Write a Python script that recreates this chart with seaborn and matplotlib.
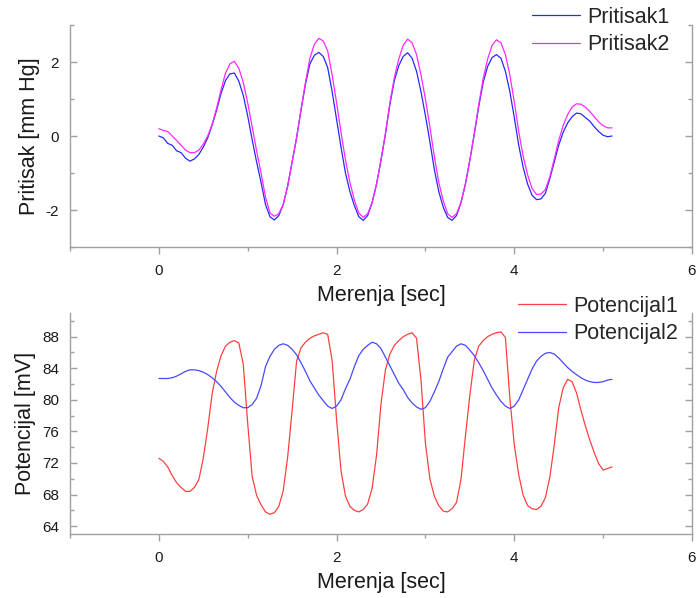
import numpy as np
import pandas as pd
import matplotlib
matplotlib.use("Agg")
import matplotlib.pyplot as plt
from matplotlib.ticker import MultipleLocator
import seaborn as sns

# ---------------- data ----------------
t_sec = np.linspace(0.0, 5.1, 103)

pritisak1 = [
    0.00, -0.05, -0.20, -0.25, -0.40, -0.45, -0.60, -0.68, -0.62, -0.50,
    -0.30, -0.05, 0.30, 0.70, 1.15, 1.50, 1.68, 1.70, 1.48, 1.10,
    0.54, -0.10, -0.70, -1.25, -1.85, -2.18, -2.27, -2.15, -1.85, -1.35,
    -0.70, -0.05, 0.70, 1.40, 1.95, 2.18, 2.26, 2.15, 1.85, 1.20,
    0.45, -0.30, -1.00, -1.50, -1.88, -2.18, -2.28, -2.15, -1.80, -1.30,
    -0.65, 0.05, 0.85, 1.50, 1.90, 2.15, 2.25, 2.10, 1.75, 1.20,
    0.55, -0.15, -0.90, -1.50, -1.92, -2.20, -2.28, -2.15, -1.80, -1.30,
    -0.65, 0.05, 0.80, 1.45, 1.88, 2.12, 2.20, 2.10, 1.75, 1.20,
    0.50, -0.25, -0.85, -1.30, -1.60, -1.72, -1.70, -1.55, -1.15, -0.70,
    -0.25, 0.10, 0.35, 0.52, 0.62, 0.60, 0.50, 0.40, 0.25, 0.12,
    0.02, -0.02, 0.00]

pritisak2 = [
    0.20, 0.15, 0.12, 0.00, -0.12, -0.25, -0.38, -0.45, -0.45, -0.38,
    -0.22, 0.00, 0.32, 0.75, 1.25, 1.70, 1.95, 2.02, 1.83, 1.45,
    0.89, 0.25, -0.40, -1.00, -1.65, -2.08, -2.17, -2.10, -1.85, -1.35,
    -0.70, -0.05, 0.72, 1.45, 2.10, 2.48, 2.64, 2.57, 2.30, 1.65,
    0.90, 0.10, -0.65, -1.25, -1.73, -2.08, -2.20, -2.10, -1.80, -1.30,
    -0.65, 0.07, 0.90, 1.58, 2.08, 2.45, 2.62, 2.52, 2.20, 1.65,
    1.00, 0.25, -0.55, -1.25, -1.75, -2.10, -2.20, -2.10, -1.80, -1.30,
    -0.65, 0.07, 0.85, 1.55, 2.08, 2.45, 2.60, 2.52, 2.20, 1.65,
    0.92, 0.12, -0.55, -1.05, -1.42, -1.58, -1.57, -1.45, -1.10, -0.62,
    -0.12, 0.28, 0.58, 0.78, 0.87, 0.86, 0.78, 0.66, 0.52, 0.38,
    0.28, 0.22, 0.22]

potencijal1 = [
    72.6, 72.2, 71.5, 70.4, 69.5, 68.9, 68.4, 68.4, 68.9, 69.9,
    72.6, 76.4, 80.8, 83.6, 85.6, 86.8, 87.3, 87.5, 87.2, 84.5,
    77.0, 70.3, 67.9, 66.7, 65.8, 65.5, 65.7, 66.5, 68.5, 72.8,
    78.7, 84.9, 86.6, 87.3, 87.8, 88.1, 88.3, 88.5, 88.3, 85.0,
    77.5, 71.0, 67.8, 66.5, 66.0, 65.8, 66.1, 66.8, 68.8, 73.0,
    79.5, 83.8, 85.8, 86.9, 87.5, 88.0, 88.3, 88.5, 87.8, 82.5,
    74.5, 70.0, 67.8, 66.6, 65.9, 65.8, 66.2, 67.0, 69.9, 75.4,
    80.6, 85.0, 86.8, 87.5, 88.0, 88.3, 88.5, 88.6, 87.9, 80.2,
    74.3, 70.5, 67.9, 66.6, 66.2, 66.1, 66.5, 67.6, 70.2, 74.3,
    79.0, 81.5, 82.6, 82.3, 80.9, 78.7, 76.7, 74.9, 73.3, 71.9,
    71.1, 71.3, 71.5]

potencijal2 = [
    82.7, 82.7, 82.7, 82.8, 83.0, 83.3, 83.6, 83.8, 83.8, 83.7,
    83.5, 83.2, 82.8, 82.3, 81.7, 81.0, 80.3, 79.7, 79.3, 79.0,
    79.0, 79.4, 80.2, 81.8, 84.2, 85.5, 86.4, 86.9, 87.1, 86.9,
    86.4, 85.7, 84.7, 83.6, 82.4, 81.5, 80.6, 79.9, 79.2, 78.9,
    79.2, 80.0, 81.4, 82.6, 84.2, 85.6, 86.4, 86.9, 87.3, 87.1,
    86.5, 85.4, 84.3, 83.2, 82.1, 81.3, 80.3, 79.6, 79.1, 78.8,
    79.0, 79.8, 81.0, 82.3, 83.9, 85.4, 86.1, 86.8, 87.1, 86.9,
    86.3, 85.6, 84.7, 83.7, 82.6, 81.5, 80.6, 79.8, 79.2, 78.9,
    79.2, 80.0, 81.3, 82.6, 83.9, 84.9, 85.5, 85.9, 86.0, 85.8,
    85.3, 84.7, 84.1, 83.6, 83.2, 82.8, 82.5, 82.3, 82.2, 82.2,
    82.3, 82.5, 82.6]

top_names = ["Pritisak1", "Pritisak2"]
bot_names = ["Potencijal1", "Potencijal2"]
x_label = "Merenja [sec]"
top_ylabel = "Pritisak [mm Hg]"
bot_ylabel = "Potencijal [mV]"

df_top = pd.DataFrame({
    "t": np.concatenate([t_sec, t_sec]),
    "v": np.concatenate([pritisak1, pritisak2]),
    "s": [top_names[0]] * len(t_sec) + [top_names[1]] * len(t_sec),
})
df_bot = pd.DataFrame({
    "t": np.concatenate([t_sec, t_sec]),
    "v": np.concatenate([potencijal1, potencijal2]),
    "s": [bot_names[0]] * len(t_sec) + [bot_names[1]] * len(t_sec),
})

# ---------------- style ----------------
sns.set_theme(style="ticks")
plt.rcParams["font.family"] = ["Liberation Sans", "DejaVu Sans"]
plt.rcParams["axes.unicode_minus"] = False
SPINE = "#a0a0a0"
TXT = "#1a1a1a"

fig = plt.figure(figsize=(6.98, 5.98), dpi=100)
W, H = 698.0, 598.0
ax1 = fig.add_axes([70 / W, 1 - 247 / H, 622 / W, 222 / H])
ax2 = fig.add_axes([70 / W, 1 - 534 / H, 622 / W, 221 / H])

sns.lineplot(data=df_top, x="t", y="v", hue="s", ax=ax1, estimator=None,
             sort=False, linewidth=0.9,
             palette={top_names[0]: "#2828ff", top_names[1]: "#ff28ff"})
sns.lineplot(data=df_bot, x="t", y="v", hue="s", ax=ax2, estimator=None,
             sort=False, linewidth=0.9,
             palette={bot_names[0]: "#ff4040", bot_names[1]: "#4848ff"})

def style_axes(ax, ylim, ymaj, ymin, ylabel):
    ax.set_xlim(-1, 6)
    ax.set_ylim(*ylim)
    ax.xaxis.set_major_locator(MultipleLocator(2))
    ax.xaxis.set_minor_locator(MultipleLocator(1))
    ax.yaxis.set_major_locator(MultipleLocator(ymaj))
    ax.yaxis.set_minor_locator(MultipleLocator(ymin))
    ax.spines["top"].set_visible(False)
    for s in ("left", "right", "bottom"):
        ax.spines[s].set_visible(True)
        ax.spines[s].set_color(SPINE)
        ax.spines[s].set_linewidth(1.0)
    ax.tick_params(axis="x", which="major", direction="out", length=5,
                   width=1, color=SPINE, labelsize=11, labelcolor=TXT, pad=7)
    ax.tick_params(axis="x", which="minor", direction="out", length=3,
                   width=1, color=SPINE)
    ax.tick_params(axis="y", which="major", direction="in", length=5,
                   width=1, color=SPINE, left=True, right=True,
                   labelsize=11, labelcolor=TXT, pad=8)
    ax.tick_params(axis="y", which="minor", direction="in", length=3,
                   width=1, color=SPINE, left=True, right=True)
    ax.set_xlabel(x_label, fontsize=15.5, color=TXT, labelpad=5)
    ax.set_ylabel(ylabel, fontsize=15.5, color=TXT, labelpad=4)
    ax.grid(False)

style_axes(ax1, (-3, 3), 2, 1, top_ylabel)
style_axes(ax2, (63, 91), 4, 2, bot_ylabel)
ax1.set_yticks([-2, 0, 2])

for ax, anchor in ((ax1, (532 / W, 1 - 7 / H)), (ax2, (518 / W, 1 - 296 / H))):
    h, l = ax.get_legend_handles_labels()
    ax.legend(h, l, loc="upper left", bbox_to_anchor=anchor,
              bbox_transform=fig.transFigure, frameon=False, fontsize=15.5,
              handlelength=2.25, handletextpad=0.3, labelspacing=0.3,
              borderpad=0, borderaxespad=0)
    for line in ax.get_legend().get_lines():
        line.set_linewidth(0.9)

fig.savefig("out.png", dpi=100)
